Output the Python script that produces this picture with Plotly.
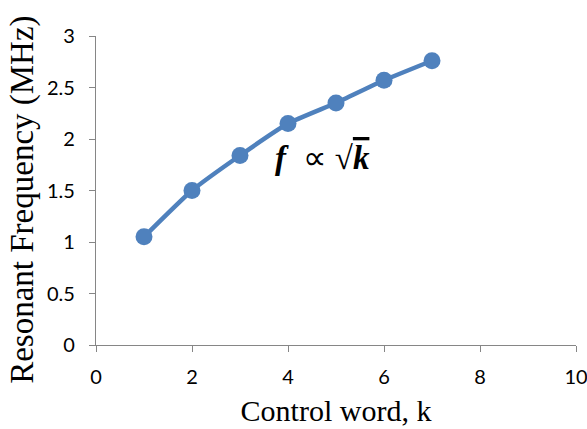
import plotly.graph_objects as go

k_values = [1, 2, 3, 4, 5, 6, 7]
freq_mhz = [1.05, 1.50, 1.84, 2.15, 2.35, 2.57, 2.76]
x_ticks = [0, 2, 4, 6, 8, 10]
y_ticks = [0, 0.5, 1, 1.5, 2, 2.5, 3]
y_tick_text = ["0", "0.5", "1", "1.5", "2", "2.5", "3"]

blue = "#4F81BD"
axis_gray = "#868686"
serif = "Liberation Serif"

fig = go.Figure()
fig.add_trace(go.Scatter(
    x=k_values, y=freq_mhz, mode="lines+markers",
    line=dict(color=blue, width=4.5, shape="spline", smoothing=0.5),
    marker=dict(color=blue, size=17),
    showlegend=False,
))

fig.add_annotation(
    x=4.71, y=1.82, xref="x", yref="y", showarrow=False,
    xanchor="center", yanchor="middle",
    text="<span style='font-family:Liberation Serif'><b><i>f</i></b>&nbsp; ∝ √<span style='text-decoration:overline'><b><i>k</i></b></span></span>",
    font=dict(family=serif, size=33, color="#000000"),
)

# y-axis title placed as a rotated annotation (paper coords)
fig.add_annotation(
    x=-0.152, y=0.47, xref="paper", yref="paper", showarrow=False,
    xanchor="center", yanchor="middle",
    text="Resonant Frequency (MHz)", textangle=-90,
    font=dict(family=serif, size=33, color="#000000"),
)

fig.update_xaxes(
    range=[0, 10], tickvals=x_ticks, showgrid=False, zeroline=False,
    showline=True, linecolor=axis_gray, linewidth=1.3,
    ticks="outside", ticklen=6, tickcolor=axis_gray, tickwidth=1.3,
    tickfont=dict(family="Lato", size=20, color="#000000"),
    ticklabelstandoff=8, ticklabeloverflow="allow", automargin=False,
    title=dict(text="Control word, k", font=dict(family=serif, size=30, color="#000000"), standoff=12),
)
fig.update_yaxes(
    range=[0, 3], tickvals=y_ticks, ticktext=y_tick_text, showgrid=False, zeroline=False,
    showline=True, linecolor=axis_gray, linewidth=1.3,
    ticks="outside", ticklen=6, tickcolor=axis_gray, tickwidth=1.3,
    tickfont=dict(family="Lato", size=20, color="#000000"),
    ticklabelstandoff=10, automargin=False,
)

fig.update_layout(
    width=587, height=429,
    margin=dict(l=96, r=11, t=36, b=84, autoexpand=False),
    paper_bgcolor="white", plot_bgcolor="white",
)

fig.write_html("out.html")
